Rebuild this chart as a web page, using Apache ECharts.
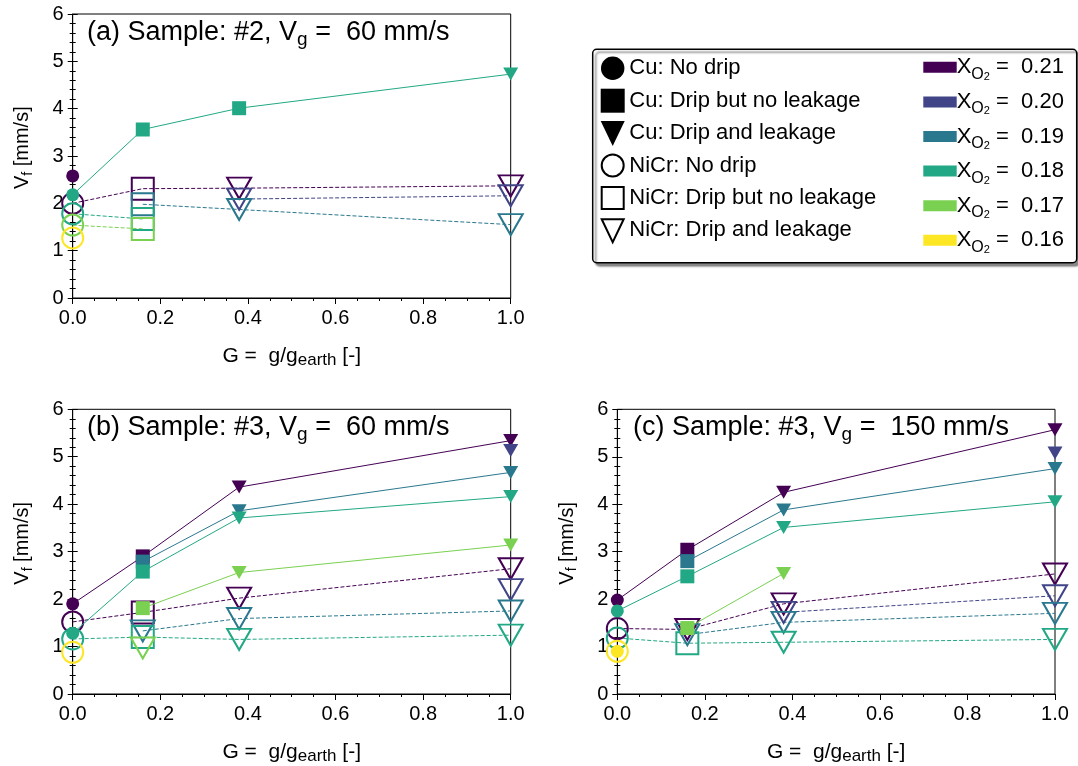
<!DOCTYPE html>
<html><head><meta charset="utf-8">
<script src="https://cdn.jsdelivr.net/npm/echarts@6/dist/echarts.min.js"></script>
<style>html,body{margin:0;padding:0;background:#fff}#c{width:1078px;height:766px}</style>
</head><body><div id="c"></div>
<script>
// ---------- DATA ----------
const gValues = [0, 0.16, 0.38, 1.0];
const xO2Labels = ['0.21', '0.20', '0.19', '0.18', '0.17', '0.16'];
const yTickLabels = ['0', '1', '2', '3', '4', '5', '6'];
const xTickLabels = ['0.0', '0.2', '0.4', '0.6', '0.8', '1.0'];
const panelTitles = ['(a) Sample: #2, V{sub|g} =  60 mm/s', '(b) Sample: #3, V{sub|g} =  60 mm/s', '(c) Sample: #3, V{sub|g} =  150 mm/s'];
const legendMarkerLabels = ['Cu: No drip', 'Cu: Drip but no leakage', 'Cu: Drip and leakage', 'NiCr: No drip', 'NiCr: Drip but no leakage', 'NiCr: Drip and leakage'];
// status codes per G point: N = no drip, D = drip but no leakage, L = drip and leakage, - = none
// Panel (a)
const aCuValues = [[2.58, null, null, null], [null, null, null, null], [null, null, null, null], [2.18, 3.56, 4.01, 4.73], [null, null, null, null], [null, null, null, null]];
const aCuStatus = ['N---', '----', '----', 'NDDL', '----', '----'];
const aNiCrValues = [[2.00, 2.31, 2.32, 2.37], [null, null, 2.09, 2.16], [null, 1.98, 1.87, 1.55], [1.78, 1.67, null, null], [1.54, 1.46, null, null], [1.27, null, null, null]];
const aNiCrStatus = ['NDLL', '--LL', '-DLL', 'ND--', 'ND--', 'N---'];
// Panel (b)
const bCuValues = [[1.90, 2.90, 4.36, 5.34], [null, null, null, 5.13], [null, 2.79, 3.86, 4.67], [1.28, 2.58, 3.71, 4.16], [null, 1.81, 2.56, 3.14], [null, null, null, null]];
const bCuStatus = ['NDLL', '---L', '-DLL', 'NDLL', '-DLL', '----'];
const bNiCrValues = [[1.52, 1.72, 2.02, 2.64], [null, null, null, 2.20], [null, 1.33, 1.59, 1.75], [1.16, 1.20, 1.15, 1.24], [null, 0.97, null, null], [0.88, null, null, null]];
const bNiCrStatus = ['NDLL', '---L', '-LLL', 'NDLL', '-L--', 'N---'];
// Panel (c)
const cCuValues = [[1.98, 3.04, 4.25, 5.57], [null, null, null, 5.08], [null, 2.80, 3.88, 4.75], [1.75, 2.48, 3.51, 4.05], [null, 1.39, 2.54, null], [0.90, null, null, null]];
const cCuStatus = ['NDLL', '---L', '-DLL', 'NDLL', '-DL-', 'N---'];
const cNiCrValues = [[1.38, 1.36, 1.90, 2.53], [null, null, 1.72, 2.07], [null, 1.25, 1.51, 1.70], [1.18, 1.07, 1.09, 1.15], [null, null, null, null], [0.90, null, null, null]];
const cNiCrStatus = ['NLLL', '--LL', '-LLL', 'NDLL', '----', 'N---'];

// ---------- STYLE ----------
const colors = ['#440154', '#414487', '#2a788e', '#22a884', '#7ad151', '#fde725'];
const FONT = '"Liberation Sans", Arial, sans-serif';
const TRI = 'path://M0,0L2,0L1,2Z';
const SYM = {N: 'circle', D: 'rect', L: TRI};
const SIZE = {
  Cu: {N: 13, D: 14, L: [15, 13]},
  NiCr: {N: 21, D: 22, L: [24, 21]}
};
const grids = [
  {left: 72.7, top: 14, width: 438, height: 284},
  {left: 72.7, top: 409.3, width: 438, height: 285},
  {left: 617.3, top: 409.3, width: 437.7, height: 285.3}
];
const titlePos = [[82, 12], [82, 407], [628, 407]];
const panels = [
  {Cu: [aCuValues, aCuStatus], NiCr: [aNiCrValues, aNiCrStatus]},
  {Cu: [bCuValues, bCuStatus], NiCr: [bNiCrValues, bNiCrStatus]},
  {Cu: [cCuValues, cCuStatus], NiCr: [cNiCrValues, cNiCrStatus]}
];

const xAxes = [], yAxes = [], series = [], titles = [];
grids.forEach((g, p) => {
  xAxes.push({
    type: 'value', gridIndex: p, min: 0, max: 1, interval: 0.2,
    axisLine: {show: true, lineStyle: {color: '#000', width: 1}},
    axisTick: {show: true, length: 6, lineStyle: {color: '#000', width: 1}},
    minorTick: {show: true, splitNumber: 4, length: 3, lineStyle: {color: '#000', width: 1}},
    splitLine: {show: false},
    axisLabel: {color: '#000', fontSize: 20, fontFamily: FONT, margin: 10,
      formatter: v => xTickLabels[Math.round(v / 0.2)]},
    name: 'G =  g/g{sub|earth} [-]', nameLocation: 'middle', nameGap: 45,
    nameTextStyle: {color: '#000', fontSize: 21, fontFamily: FONT, lineHeight: 26,
      rich: {sub: {fontSize: 17, fontFamily: FONT, color: '#000', verticalAlign: 'bottom', lineHeight: 19}}}
  });
  yAxes.push({
    type: 'value', gridIndex: p, min: 0, max: 6, interval: 1, position: 'left',
    axisLine: {show: true, lineStyle: {color: '#000', width: 1}},
    axisTick: {show: true, length: 5, lineStyle: {color: '#000', width: 1}},
    minorTick: {show: true, splitNumber: 5, length: 3, lineStyle: {color: '#000', width: 1}},
    splitLine: {show: false},
    axisLabel: {color: '#000', fontSize: 20, fontFamily: FONT, margin: 9,
      formatter: v => yTickLabels[Math.round(v)]},
    name: '   V{sub|f} [mm/s]', nameLocation: 'middle', nameGap: 38, nameRotate: 90,
    nameTextStyle: {color: '#000', fontSize: 20, fontFamily: FONT, lineHeight: 24,
      rich: {sub: {fontSize: 14, fontFamily: FONT, color: '#000', verticalAlign: 'bottom', lineHeight: 14}}}
  });
  yAxes.push({
    type: 'value', gridIndex: p, min: 0, max: 6, interval: 1, position: 'left', offset: 0,
    axisLine: {show: false},
    axisTick: {show: true, inside: true, length: 5, lineStyle: {color: '#000', width: 1}},
    minorTick: {show: true, splitNumber: 5, length: 3, lineStyle: {color: '#000', width: 1}},
    splitLine: {show: false}, axisLabel: {show: false}
  });
  titles.push({
    text: panelTitles[p], left: titlePos[p][0], top: titlePos[p][1],
    textStyle: {color: '#000', fontSize: 27, fontWeight: 'normal', fontFamily: FONT, lineHeight: 32,
      rich: {sub: {fontSize: 19, fontFamily: FONT, color: '#000', verticalAlign: 'bottom', lineHeight: 18}}}
  });
  ['NiCr', 'Cu'].forEach(mat => {
    const [vals, stat] = panels[p][mat];
    vals.forEach((row, i) => {
      const col = colors[i];
      const pts = [];
      gValues.forEach((gx, j) => {
        const s = stat[i][j];
        if (row[j] == null || s === '-') return;
        pts.push({value: [gx, row[j]], symbol: SYM[s], symbolSize: SIZE[mat][s]});
      });
      if (!pts.length) return;
      series.push({
        type: 'line', name: mat + ' ' + xO2Labels[i], xAxisIndex: p, yAxisIndex: p * 2,
        data: pts, showAllSymbol: true, symbolKeepAspect: false,
        z: mat === 'Cu' ? 4 : 3, silent: true, animation: false,
        lineStyle: {color: col, width: 1, type: mat === 'Cu' ? 'solid' : [4, 2]},
        itemStyle: mat === 'Cu'
          ? {color: col, borderWidth: 0, opacity: 1}
          : {color: 'rgba(0,0,0,0)', borderColor: col, borderWidth: 2, opacity: 1},
        emphasis: {disabled: true}
      });
    });
  });
});

// ---------- LEGEND (graphic) ----------
const legendEls = [];
const LX = 592.7, LY = 49.3, LW = 484, LH = 213.4;
legendEls.push({type: 'rect', shape: {x: LX, y: LY, width: LW, height: LH, r: 4}, z: 10,
  style: {fill: '#fff', stroke: '#000', lineWidth: 1.5, shadowColor: 'rgba(0,0,0,0.45)', shadowOffsetX: 3, shadowOffsetY: 3, shadowBlur: 2}});
const rowY0 = 68.3, rowStep = 32.4, mx = 612.7;
legendMarkerLabels.forEach((lab, k) => {
  const cy = rowY0 + k * rowStep;
  const hollow = k >= 3;
  const kind = k % 3;
  const st = hollow ? {fill: 'none', stroke: '#000', lineWidth: 2} : {fill: '#000'};
  if (kind === 0) legendEls.push({type: 'circle', z: 11, shape: {cx: mx, cy: cy, r: hollow ? 11 : 11.7}, style: st});
  else if (kind === 1) legendEls.push({type: 'rect', z: 11, shape: hollow ? {x: mx - 11, y: cy - 11, width: 22, height: 22} : {x: mx - 12, y: cy - 12, width: 24, height: 24}, style: st});
  else legendEls.push({type: 'polygon', z: 11, shape: {points: hollow ? [[mx - 11, cy - 11], [mx + 11, cy - 11], [mx, cy + 12]] : [[mx - 12, cy - 12], [mx + 12, cy - 12], [mx, cy + 13]]}, style: st});
  legendEls.push({type: 'text', z: 11, x: 629.3, y: cy, style: {text: lab, fontSize: 22, fontFamily: FONT, fill: '#000', align: 'left', verticalAlign: 'middle'}});
});
const cRowY0 = 67.3, cRowStep = 34.6;
xO2Labels.forEach((lab, k) => {
  const cy = cRowY0 + k * cRowStep;
  legendEls.push({type: 'rect', z: 11, shape: {x: 923.3, y: cy - 5.5, width: 33.4, height: 11}, style: {fill: colors[k]}});
  legendEls.push({type: 'text', z: 11, x: 956.7, y: cy, style: {
    text: '{x|X}{o|O}{t|2}{x| =  ' + lab + '}', align: 'left', verticalAlign: 'middle',
    rich: {
      x: {fontSize: 22, fontFamily: FONT, fill: '#000', lineHeight: 30},
      o: {fontSize: 16, fontFamily: FONT, fill: '#000', verticalAlign: 'bottom', lineHeight: 15},
      t: {fontSize: 11, fontFamily: FONT, fill: '#000', verticalAlign: 'bottom', lineHeight: 10}
    }}});
});

const chart = echarts.init(document.getElementById('c'), null, {renderer: 'canvas'});
chart.setOption({
  animation: false,
  backgroundColor: '#fff',
  title: titles,
  grid: grids.map(g => Object.assign({show: true, borderColor: '#000', borderWidth: 1, backgroundColor: 'transparent', containLabel: false}, g)),
  xAxis: xAxes,
  yAxis: yAxes,
  series: series,
  graphic: {elements: legendEls}
});
</script></body></html>
